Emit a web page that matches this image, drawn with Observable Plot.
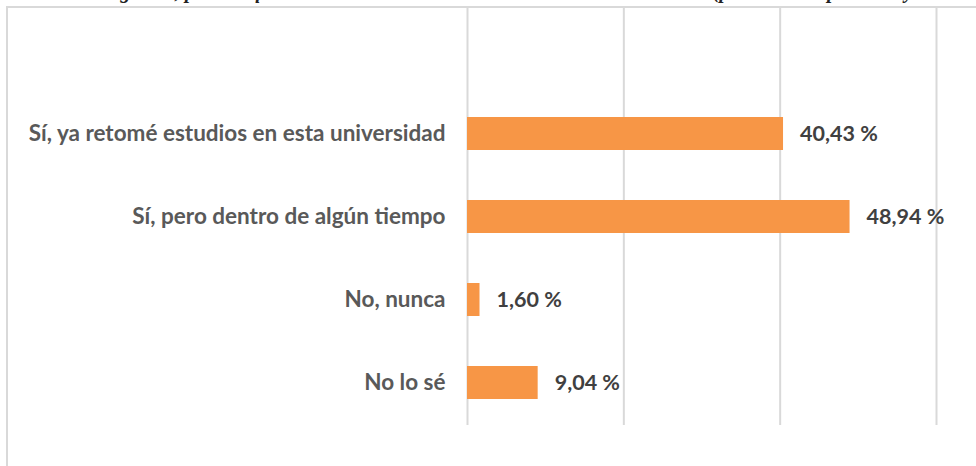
<!DOCTYPE html>
<html><head><meta charset="utf-8">
<script src="https://cdn.jsdelivr.net/npm/d3@7"></script>
<script src="https://cdn.jsdelivr.net/npm/@observablehq/plot@0.6"></script>
<style>
html,body{margin:0;padding:0;background:#fff;overflow:hidden;width:976px;height:466px;position:relative}
#title{position:absolute;left:-60px;width:1096px;top:-20px;text-align:center;font:italic bold 20px "Liberation Serif",serif;color:#222;white-space:nowrap}
#frame{position:absolute;left:6px;top:6px;width:1000px;height:500px;border:2px solid #d9d9d9}
#chart{position:absolute;left:0;top:0}
</style></head><body>
<div id="title">¿Después de la contingencia, piensas que retomarás de nuevo tus estudios en tu universidad? (periodo de septiembre y octubre de 2020)</div>
<div id="frame"></div>
<div id="chart"></div>
<script>
const categories = ["Sí, ya retomé estudios en esta universidad", "Sí, pero dentro de algún tiempo", "No, nunca", "No lo sé"];
const values = [40.43, 48.94, 1.60, 9.04];
const valueLabels = ["40,43 %", "48,94 %", "1,60 %", "9,04 %"];
const gridTicks = [0, 20, 40, 60];

const data = categories.map((c, i) => ({category: c, value: values[i], label: valueLabels[i]}));

const chart = Plot.plot({
  width: 976, height: 466,
  marginTop: 8, marginBottom: 41, marginLeft: 467, marginRight: 40,
  x: {domain: [0, 60], axis: null},
  y: {domain: categories, range: [90.4, 424.8], paddingInner: 0.6, paddingOuter: 0.3, axis: null},
  style: {background: "transparent", fontFamily: "Lato, sans-serif"},
  marks: [
    Plot.ruleX(gridTicks, {stroke: "#d9d9d9", strokeWidth: 2}),
    Plot.barX(data, {x: "value", y: "category", fill: "#f79646"}),
    Plot.text(data, {x: 0, y: "category", text: "category", textAnchor: "end", dx: -22, fontSize: 22.5, fontWeight: "bold", fill: "#595959"}),
    Plot.text(data, {x: "value", y: "category", text: "label", textAnchor: "start", dx: 16.5, fontSize: 21.5, fontWeight: "bold", fill: "#404040"})
  ]
});
document.getElementById("chart").appendChild(chart);
</script>
</body></html>
